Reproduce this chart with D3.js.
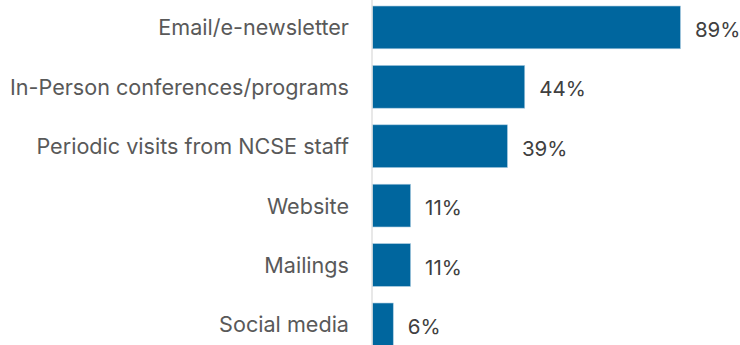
<!DOCTYPE html>
<html>
<head>
<meta charset="utf-8">
<script src="https://cdn.jsdelivr.net/npm/d3@7"></script>
<style>
  html, body { margin: 0; padding: 0; background: #ffffff; }
  svg { display: block; }
</style>
</head>
<body>
<svg id="chart" width="740" height="345"></svg>
<script>
// Communication channels and share of respondents (%)
const categories = [
  "Email/e-newsletter",
  "In-Person conferences/programs",
  "Periodic visits from NCSE staff",
  "Website",
  "Mailings",
  "Social media"
];
const values = [89, 44, 39, 11, 11, 6];

const width = 740, height = 345;
const axisX = 372;
const fontFamily = "Inter, 'Open Sans', sans-serif";

const svg = d3.select("#chart");

const x = d3.scaleLinear().domain([0, 100]).range([axisX, axisX + 346]);
const y = d3.scaleBand()
  .domain(categories)
  .range([-2.3, 354.1])
  .paddingInner(0.28)
  .paddingOuter(0.14);

const data = categories.map((c, i) => ({ cat: c, val: values[i] }));

// Bars
svg.selectAll("rect.bar")
  .data(data)
  .join("rect")
  .attr("class", "bar")
  .attr("x", x(0) + 0.5)
  .attr("y", d => y(d.cat))
  .attr("width", d => x(d.val) - x(0))
  .attr("height", y.bandwidth())
  .attr("fill", "#00669e")
  .attr("stroke", "#a9cbe0")
  .attr("stroke-width", 0.6);

// Vertical category axis line
svg.append("line")
  .attr("x1", axisX).attr("x2", axisX)
  .attr("y1", 0).attr("y2", height)
  .attr("stroke", "#d9d9d9")
  .attr("stroke-width", 1.2);

// Category labels
svg.selectAll("text.cat")
  .data(data)
  .join("text")
  .attr("class", "cat")
  .attr("x", 349)
  .attr("y", d => y(d.cat) + y.bandwidth() / 2)
  .attr("text-anchor", "end")
  .attr("dominant-baseline", "central")
  .attr("font-family", fontFamily)
  .attr("font-size", 21.6)
  .attr("fill", "#595959")
  .text(d => d.cat);

// Value labels
svg.selectAll("text.val")
  .data(data)
  .join("text")
  .attr("class", "val")
  .attr("x", d => x(d.val) + 15)
  .attr("y", d => y(d.cat) + y.bandwidth() / 2 + 2)
  .attr("dominant-baseline", "central")
  .attr("font-family", fontFamily)
  .attr("font-size", 20.5)
  .attr("fill", "#404040")
  .text(d => d.val + "%");
</script>
</body>
</html>
